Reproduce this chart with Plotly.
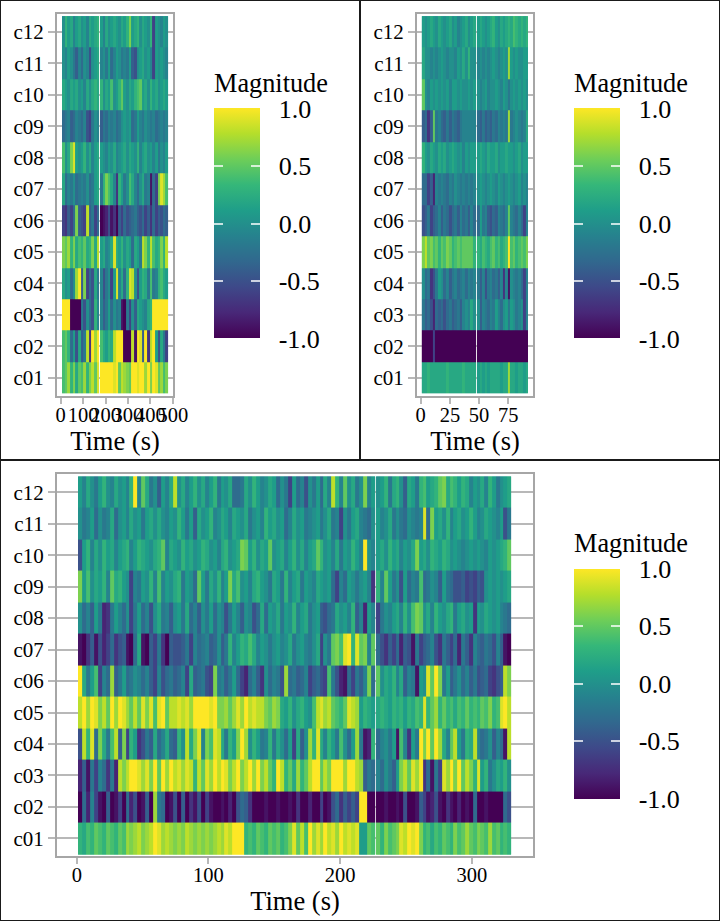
import plotly.graph_objects as go
import numpy as np

W, H = 720, 921
rows = ["c01","c02","c03","c04","c05","c06","c07","c08","c09","c10","c11","c12"]

# ---- Panel A: 14 bins before the gap, 26 after (values in tenths)
A_c01=[4,5,7,3,6,2,5,4,7,3,6,8,5,9, 10,10,10,10,10,9,10,5,8,7,6,5,10,10,9,10,10,7,10,6,10,9,5,7,4,6]
A_c02=[4,5,3,-3,1,-5,2,-4,-2,8,-7,10,7,10, 4,2,1,3,2,8,10,10,10,-10,-10,-10,8,-9,10,9,-4,10,-7,8,10,1,-5,2,-2,-6]
A_c03=[10,10,10,-10,-10,-10,-10,-2,-5,0,-3,-5,3,-1, -1,-4,-2,1,-3,0,-2,-1,-9,-10,-2,-6,0,-4,2,1,0,-1,2,3,10,10,10,10,10,10]
A_c04=[2,0,1,-3,0,7,10,-4,6,-6,-3,-5,2,-2, -1,-5,-2,0,-6,1,9,-1,2,-3,3,9,8,0,-5,1,3,2,-2,4,-2,-1,3,4,2,1]
A_c05=[6,5,7,3,6,2,4,3,5,2,3,6,2,8, 1,2,-1,0,2,9,2,1,3,0,2,1,-3,2,1,-2,8,6,3,8,4,2,3,6,3,8]
A_c06=[-6,-7,-4,-6,-3,6,-4,-5,-6,8,-4,-2,-6,-3, -10,-9,-8,-5,-9,-7,-10,-4,-6,-3,-5,-4,-3,-2,-4,-5,-3,-6,-4,-7,-3,-6,-4,-5,-3,-4]
A_c07=[2,-3,-1,-2,0,-3,-2,-1,-2,0,-3,-2,1,2, -2,3,6,4,2,-1,-7,3,1,-2,0,4,2,-1,-3,0,2,-2,-1,-9,-3,-6,6,9,7,4]
A_c08=[4,0,2,6,9,1,0,1,3,0,2,-1,1,2, 1,0,-1,1,0,2,-1,0,1,2,0,2,1,0,3,-1,1,2,0,1,-1,1,-2,0,-1,1]
A_c09=[-3,-2,-1,-4,-3,-1,-2,-3,-1,-5,-6,-2,0,-1, -4,-2,-3,-1,-2,-1,-3,-2,0,1,0,1,-3,-2,1,-1,-2,0,-1,-2,-1,-3,-2,-1,-2,-1]
A_c10=[2,1,0,2,1,2,0,1,-1,2,0,2,3,2, 3,0,2,1,4,0,1,3,5,1,0,2,1,3,4,5,1,2,0,3,1,2,0,1,2,1]
A_c11=[0,-1,1,0,-2,-4,-1,-3,0,-1,-5,0,1,2, -1,0,-2,1,-3,-1,1,0,-2,-1,-2,1,-4,-5,0,1,2,0,1,-1,-6,1,0,1,0,-1]
A_c12=[0,3,1,2,-1,1,2,0,1,-1,2,1,2,3, 1,-1,2,0,1,2,1,0,2,1,3,6,1,2,3,0,2,1,0,3,-6,1,0,-1,1,0]

# ---- Panel B: 20 bins before the gap, 20 after
B_c01=[2,2,3,2,2,2,2,2,2,3,2,2,2,2,2,3,2,2,2,2, 1,2,1,2,1,2,2,2,2,1,2,2,7,2,2,1,2,2,1,2]
B_c02=[-10,-10,-10,-10,-6,-10,-10,-10,-10,-10,-10,-10,-10,-10,-10,-10,-10,-10,-10,-10, -10,-10,-10,-10,-10,-10,-10,-10,-10,-10,-10,-10,-10,-10,-10,-10,-10,-10,-10,-10]
B_c03=[-2,-4,-3,-5,-8,-3,-4,-3,-5,-3,-2,-4,-3,-2,-4,-1,0,-1,2,0, 0,-4,-1,-2,-3,-1,-2,1,-1,-3,0,1,-2,1,0,-2,-1,0,-6,-1]
B_c04=[0,-3,-2,-7,-5,-2,1,0,-3,-1,-4,-2,-1,-3,-2,-1,-3,-1,-2,-1, -2,-4,-1,-5,-2,-1,-3,-2,-4,-1,-7,-1,-9,0,-1,-2,-1,-3,-6,-1]
B_c05=[6,8,5,6,4,5,3,5,4,6,5,3,4,5,4,5,5,5,5,3, 3,2,4,3,2,4,5,3,4,2,3,4,10,4,5,3,4,5,4,6]
B_c06=[-5,-4,-2,-6,-4,-3,-1,-4,-2,-3,-5,-3,-2,-4,-1,-3,-2,-4,-1,-3, -3,1,-2,-1,-4,-5,-3,-4,-1,-2,-3,-1,5,-1,-2,-3,-1,-3,-6,-1]
B_c07=[-3,-3,-6,-4,-8,-1,-2,-1,-2,-3,-1,-2,0,-1,-2,-1,-2,-1,-2,-1, 0,1,0,-1,0,1,0,-1,1,0,-1,0,1,0,-1,0,1,-1,0,-1]
B_c08=[3,1,0,2,1,0,2,1,2,0,1,2,1,0,1,-1,1,0,1,1, 1,2,1,0,2,1,1,2,0,1,1,2,1,1,0,1,2,0,1,1]
B_c09=[-4,-3,-7,-4,5,-2,-1,-3,-4,-2,-4,-2,-3,-4,-2,-1,-1,-1,-1,-1, -3,-4,-2,-4,-3,-4,-2,-3,-1,-2,-1,-2,7,-2,-1,0,-1,-2,-1,2]
B_c10=[5,0,-1,1,0,1,0,1,0,1,-1,1,1,0,1,0,0,1,0,1, 0,-1,0,1,-1,0,0,1,0,-1,1,0,-2,0,1,0,1,0,1,0]
B_c11=[2,0,0,-1,0,-1,0,1,0,-1,0,0,-1,1,0,2,0,3,0,0, -1,0,-1,0,-1,0,1,0,-1,0,1,0,7,1,0,1,0,0,1,1]
B_c12=[1,0,1,2,1,0,2,1,0,1,2,0,1,-1,0,1,2,0,1,2, 1,2,1,0,1,2,3,1,0,2,1,2,3,2,4,3,2,3,2,3]

# ---- Panel C: 75 bins before the gap, 35 after
C_c01=[3,2,4,3,5,4,3,5,4,3, 5,4,7,6,7,8,6,7,8,10, 9,7,8,7,6,7,6,8,7,6, 7,6,7,6,7,8,7,9,8,10, 10,10,3,4,3,5,4,3,5,4, 5,3,4,6,9,5,8,4,10,7, 9,7,10,8,9,7,10,8,9,8, 9,1,1,5,4, 5,3,6,4,5, 6,9,8,10,9,10,6,3,4,2, 4,3,5,4,3,6,4,5,7,5, 4,6,5,4,7,4,5,3,4,3]
C_c02=[-10,-3,-8,-1,-6,-9,-10,-4,-10,-9, -6,-10,-3,-8,-5,-10,-9,-4,-10,7, -2,-3,-10,-9,-5,-10,-4,-10,-7,-9, -5,-10,-6,-9,-10,-10,-9,-10,-8,-10, -5,-3,-4,-7,-10,-10,-10,-9,-10,-10, -9,-10,-10,-9,-10,-7,-10,-10,-8,-10, -10,-6,-10,-9,-5,-3,-7,-4,-6,-4, -6,10,10,-10,-10, -10,-10,-9,-10,-10, -9,-10,-5,-10,-10,-9,-4,-6,-9,-8, -5,-9,-10,-7,-9,-10,-8,-10,-9,-10, -3,-10,-10,-9,-10,-10,-10,-10,-3,-5]
C_c03=[-8,-4,-9,-2,-6,-1,-3,-7,-2,-8, 8,6,8,10,10,9,7,9,6,10, 5,10,7,10,8,9,7,9,8,3, 8,5,9,7,10,8,10,9,6,8, 10,6,8,10,7,10,6,8,5,3, 10,8,3,5,2,7,3,5,8,10, 10,5,8,6,10,10,10,7,10,10, 8,7,-4,-2,-3, -1,-3,0,-2,-4, 1,6,8,5,9,7,10,-7,-3,-9, -2,-6,9,7,10,6,10,5,8,6, 3,9,1,3,-2,0,2,1,3,0]
C_c04=[-5,8,3,9,-3,6,2,-2,4,8, -4,6,-6,3,1,-7,-5,-2,-4,2, -3,-1,2,-3,-4,3,0,8,2,6, 9,-1,6,4,9,8,2,-2,3,1, 6,10,7,0,3,1,-2,-1,3,-2, 2,0,-3,1,-6,2,-4,0,7,3, 9,2,-1,3,1,-2,4,0,-3,1, 7,-2,-9,-8,3, -3,-1,0,-2,1, -9,4,-1,-7,1,-2,10,6,10,5, 10,7,2,-1,5,8,1,-2,3,2, 8,-1,-3,-2,0,-4,-1,-3,-9,8]
C_c05=[8,10,7,10,9,6,8,5,10,7, 10,9,7,5,8,5,9,6,9,4, 9,10,5,8,8,9,8,9,7,10, 10,10,10,9,10,6,6,7,5,7, 9,7,10,8,9,8,8,6,5,7, 6,2,1,3,0,2,3,1,0,4, 8,9,7,8,5,4,3,5,9,8, 7,1,3,2,1, 2,3,2,1,3, 2,3,1,3,2,4,3,9,3,5, 7,3,5,3,4,2,4,3,5,3, 4,3,5,4,6,3,4,9,10,8]
C_c06=[10,2,-2,1,4,-6,-1,-3,7,-4, -2,1,-3,-2,0,-1,-3,-1,-4,-6, -1,-5,-3,-2,-4,-3,-1,-6,2,-4, -3,-2,-5,-6,6,-2,-1,-4,-2,1, -3,-6,-8,-3,-1,-4,-7,0,-3,-1, -2,-5,7,-3,-2,-4,-3,-1,-6,-4, -3,-5,-6,4,-2,-5,-8,-9,-3,-6, -2,-4,-1,6,-3, 5,0,2,1,3, -1,2,-4,-1,-2,-9,1,0,9,5, 10,6,-2,1,-4,-2,0,-3,-1,-4, -2,-5,-4,-3,-6,-7,-5,-4,8,6]
C_c07=[-9,-10,-7,-4,-9,-5,-8,-6,-3,-7, -5,-4,-9,-10,-3,2,-9,-10,-4,-6, -2,-7,-10,-4,-5,-5,-4,-2,-6,-1, -3,-2,-1,-4,-3,0,-4,-2,3,-1, 1,3,2,4,2,-1,1,0,-2,0, 1,-1,0,2,-2,0,1,-1,-2,0, 2,-6,0,-2,5,6,4,9,10,3, 9,5,6,-1,5, -3,-5,-7,-4,-6, -3,-8,-4,-5,-9,-2,-6,-4,-3,-1, -5,-7,-2,-4,-6,-3,-8,-2,-4,-7, -1,-3,-4,-2,-3,-5,-1,-4,-9,-10]
C_c08=[0,-3,-1,-4,1,-2,-8,-7,-2,1, -1,-3,0,-6,-2,1,-3,-1,-5,0, 2,-2,-1,-4,0,1,-2,2,-3,-1, -4,0,-2,1,-3,0,-1,-5,-2,1, -1,-4,0,-1,-5,-3,2,-3,1,0, 2,-2,1,0,3,-1,1,2,-2,0, 1,-4,-5,-3,-2,2,0,1,-1,3, -4,-1,-8,1,-1, -6,-2,0,-1,1, 2,-1,3,0,4,6,5,0,2,-1, 3,1,0,2,3,-2,1,2,0,1, -7,1,0,2,1,0,1,-1,-2,-3]
C_c09=[6,1,4,0,2,1,3,-1,5,2, 3,1,0,-6,-1,-2,1,0,3,-1, 4,-1,1,0,2,3,-2,1,0,-3, 5,1,-2,2,0,3,-1,1,6,2, 4,0,1,-1,2,3,1,0,-2,2, 1,-2,3,-1,1,2,-2,1,0,-1, 2,1,0,1,-3,-6,-1,-3,1,0, -2,0,1,-1,-7, 3,-1,5,1,-2, 0,-5,1,-3,-1,-2,4,-3,-2,0, -1,-4,1,-2,-3,-5,-5,-4,-6,-5, -6,-4,-5,0,1,0,1,0,1,2]
C_c10=[-5,1,3,-1,2,0,3,1,2,-1, 1,2,3,-1,1,3,2,1,0,2, 3,5,-1,2,1,0,3,1,2,0, 1,3,2,0,1,-1,2,3,0,1, 2,6,5,1,3,0,2,1,5,0, 1,2,-1,1,3,0,2,-1,1,2, 5,3,0,1,-1,2,-2,1,0,3, 1,-1,10,0,-1, 1,2,0,3,1, 2,-1,1,0,2,6,1,2,0,3, 2,1,3,2,0,1,0,-1,0,1, 0,1,0,-1,1,0,1,2,3,5]
C_c11=[0,-2,-1,1,-3,0,-2,-1,2,-3, 0,1,-1,2,0,1,-2,1,2,0, 2,0,-1,1,0,3,1,-2,1,-4, 2,0,1,3,-1,0,2,1,-1,2, 1,0,2,-2,0,1,-1,3,1,2, 0,1,-3,-1,2,0,1,-2,-1,0, 1,-2,0,2,-2,-1,-6,0,-2,1, 2,-1,-2,-3,0, 1,-1,0,2,-2, 0,-2,-3,0,-1,-2,-1,9,-3,6, 1,2,0,3,-1,1,2,0,1,3, 1,-1,0,2,1,0,-1,1,-5,-2]
C_c12=[1,-1,2,0,-2,1,3,0,-1,2, 0,1,-1,3,10,-1,5,2,-2,0, -4,1,-1,2,8,0,2,-1,1,3, 0,2,-1,1,3,-2,1,0,2,-3, -3,-2,2,0,3,1,-1,0,2,1, -3,0,-2,-6,1,-3,-1,-5,0,-2, 1,-3,2,-1,8,3,-1,5,0,2, -2,0,6,-1,1, 0,1,3,-2,2, 3,0,-4,2,1,-2,3,4,1,2, 3,5,6,2,4,3,1,3,2,-1, 1,0,2,-1,3,1,-2,0,1,2]

A = [A_c01,A_c02,A_c03,A_c04,A_c05,A_c06,A_c07,A_c08,A_c09,A_c10,A_c11,A_c12]
B = [B_c01,B_c02,B_c03,B_c04,B_c05,B_c06,B_c07,B_c08,B_c09,B_c10,B_c11,B_c12]
C = [C_c01,C_c02,C_c03,C_c04,C_c05,C_c06,C_c07,C_c08,C_c09,C_c10,C_c11,C_c12]

A_ticks = [0,100,200,300,400,500]
B_ticks = [0,25,50,75]
C_ticks = [0,100,200,300]
bar_vals = [-1,-0.5,0,0.5,1]
bar_text = ["-1.0","-0.5","0.0","0.5","1.0"]

panels = [
 dict(data=A, n=14, t=(6,173,175,479), frame=(57,173,14,396), xr=(-16.5,501), yr=(-0.58,11.57), ticks=A_ticks, cb_x=214, cb_y=223.5, ty=83, suffix=""),
 dict(data=B, n=20, t=(1,47,48.2,92), frame=(417,533,14,396), xr=(-3.2,96.2), yr=(-0.58,11.57), ticks=B_ticks, cb_x=574, cb_y=223.5, ty=83, suffix="2"),
 dict(data=C, n=75, t=(1,226.5,227.5,330), frame=(57,533,474,856), xr=(-15,346.5), yr=(-0.56,11.58), ticks=C_ticks, cb_x=574, cb_y=683.5, ty=543, suffix="3"),
]

SERIF = "Liberation Serif"
GRAY = "#a6a6a6"
fig = go.Figure()
layout = dict(width=W, height=H, margin=dict(l=0,r=0,t=0,b=0,autoexpand=False), paper_bgcolor="white", plot_bgcolor="white",
              showlegend=False, font=dict(family=SERIF, color="black"), annotations=[])

for p in panels:
    z = np.array(p["data"], dtype=float)/10
    n = p["n"]; m = z.shape[1]-n
    t0,t1,t2,t3 = p["t"]
    edges = np.concatenate([np.linspace(t0,t1,n+1), np.linspace(t2,t3,m+1)])
    # a narrow empty column sits between the two recordings
    zz = np.insert(z, n, np.nan, axis=1)
    xa, ya = "x"+p["suffix"], "y"+p["suffix"]
    common = dict(x=edges, y=rows, z=zz, zmin=-1, zmax=1, colorscale="Viridis", xaxis=xa, yaxis=ya, hoverongaps=False)
    base = dict(x=p["cb_x"]/W, xanchor="left", xpad=0, ypad=0, y=1-p["cb_y"]/H, yanchor="middle",
                len=230, lenmode="pixels", thicknessmode="pixels", outlinewidth=0,
                tickmode="array", tickvals=bar_vals, ticks="inside", ticklen=9, tickwidth=1.5, tickcolor="rgba(255,255,255,0.75)")
    cb = dict(thickness=46, ticktext=["\u00a0\u00a0"+t for t in bar_text],
              tickfont=dict(family=SERIF,size=26,color="black"), **base)
    fig.add_trace(go.Heatmap(colorbar=cb, **common))
    # second thin bar gives the white ticks on the left edge of the scale
    cb2 = dict(thickness=9, showticklabels=False, **base)
    fig.add_trace(go.Heatmap(colorbar=cb2, **common))
    layout["annotations"].append(dict(text="Magnitude", xref="paper", yref="paper", x=p["cb_x"]/W, y=1-p["ty"]/H,
        xanchor="left", yanchor="middle", showarrow=False, xshift=-2, font=dict(family=SERIF,size=26.3,color="black")))
    l,r,tp,b = p["frame"]
    s = p["suffix"]
    layout["xaxis"+s] = dict(domain=[l/W,r/W], range=list(p["xr"]), anchor=ya, tickmode="array", tickvals=p["ticks"], tickangle=0,
        ticks="outside", ticklen=6, tickwidth=2, tickcolor="#b8b8b8", tickfont=dict(family=SERIF,size=20.5,color="black"), ticklabelstandoff=-7,
        showline=True, mirror=True, linecolor=GRAY, linewidth=2, showgrid=False, zeroline=False,
        title=dict(text="Time (s)", font=dict(family=SERIF,size=26.5,color="black"), standoff=2))
    layout["yaxis"+s] = dict(domain=[1-b/H,1-tp/H], range=list(p["yr"]), anchor=xa, type="category", categoryorder="array", categoryarray=rows,
        ticks="outside", ticklen=7, tickwidth=2, tickcolor="#b8b8b8", tickfont=dict(family=SERIF,size=21,color="black"),
        showline=True, mirror=True, linecolor=GRAY, linewidth=2, showgrid=True, gridcolor="#b8b8b8", gridwidth=2, zeroline=False)

boxes = [(0,0,360,460),(360,0,720,460),(0,460,720,921)]
layout["shapes"] = [dict(type="rect", xref="paper", yref="paper", x0=a/W, x1=c/W, y0=1-b/H, y1=1-d/H,
                         line=dict(color="#1a1a1a", width=2), layer="above") for a,b,c,d in boxes]
fig.update_layout(**layout)
fig.write_html("out.html", config=dict(displayModeBar=False), post_script="document.body.style.margin='0';")
